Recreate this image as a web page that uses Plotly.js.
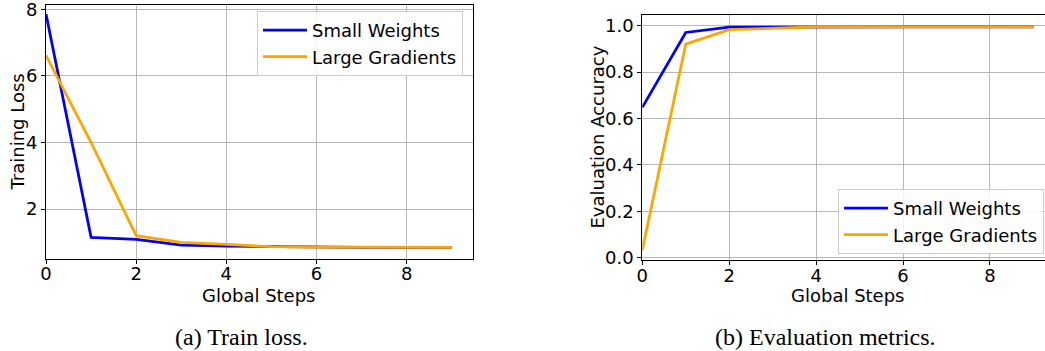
<!DOCTYPE html>
<html>
<head>
<meta charset="utf-8">
<script src="https://cdn.plot.ly/plotly-3.0.1.min.js"></script>
<style>
html,body{margin:0;padding:0;overflow:hidden;background:#fff;}
#chart{width:1045px;height:351px;}
</style>
</head>
<body>
<div id="chart"></div>
<script>
// Data
var steps = [0, 1, 2, 3, 4, 5, 6, 7, 8, 9];
var lossSmallWeights = [7.86, 1.15, 1.09, 0.92, 0.89, 0.87, 0.86, 0.85, 0.85, 0.85];
var lossLargeGradients = [6.62, 4.0, 1.2, 1.0, 0.94, 0.87, 0.86, 0.85, 0.85, 0.85];
var accSmallWeights = [0.648, 0.971, 0.994, 0.995, 0.995, 0.995, 0.995, 0.995, 0.995, 0.995];
var accLargeGradients = [0.033, 0.921, 0.983, 0.99, 0.995, 0.995, 0.995, 0.995, 0.995, 0.995];
var seriesNames = ["Small Weights", "Large Gradients"];
var xTicks = [0, 2, 4, 6, 8];
var lossTicks = [2, 4, 6, 8];
var accTicks = [0.0, 0.2, 0.4, 0.6, 0.8, 1.0];
var captions = ["(a) Train loss.", "(b) Evaluation metrics."];
var axisTitles = {x: "Global Steps", loss: "Training Loss", acc: "Evaluation Accuracy"};

var BLUE = "#0000ff", ORANGE = "#ffa500";
var FONT = "DejaVu Sans, sans-serif";
var FS = 18;
var W = 1045, H = 351;

var traces = [
  {x: steps, y: lossSmallWeights, name: seriesNames[0], type: "scatter", mode: "lines",
   line: {color: BLUE, width: 2.8}, xaxis: "x", yaxis: "y", legend: "legend", legendgroup: "a1"},
  {x: steps, y: lossLargeGradients, name: seriesNames[1], type: "scatter", mode: "lines",
   line: {color: ORANGE, width: 2.8}, xaxis: "x", yaxis: "y", legend: "legend", legendgroup: "a2"},
  {x: steps, y: accSmallWeights, name: seriesNames[0], type: "scatter", mode: "lines",
   line: {color: BLUE, width: 2.8}, xaxis: "x2", yaxis: "y2", legend: "legend2", legendgroup: "b1"},
  {x: steps, y: accLargeGradients, name: seriesNames[1], type: "scatter", mode: "lines",
   line: {color: ORANGE, width: 2.8}, xaxis: "x2", yaxis: "y2", legend: "legend2", legendgroup: "b2"}
];

function axisBase() {
  return {
    showgrid: true, gridcolor: "#b0b0b0", gridwidth: 0.9,
    showline: true, linecolor: "#000", linewidth: 1,
    ticks: "outside", ticklen: 4, tickwidth: 1, tickcolor: "#000",
    tickfont: {family: FONT, size: FS, color: "#000"},
    ticklabeloverflow: "allow",
    zeroline: false, automargin: false
  };
}

var xa = Object.assign(axisBase(), {domain: [0.04402, 0.45234], range: [0, 9.465], tickvals: xTicks,
  mirror: true, anchor: "y", ticklabelstandoff: -5});
var ya = Object.assign(axisBase(), {domain: [0.2630, 0.9866], range: [0.51, 8.14], tickvals: lossTicks,
  mirror: true, anchor: "x"});
var xa2 = Object.assign(axisBase(), {domain: [0.61464, 1], range: [0, 9.266], tickvals: xTicks,
  mirror: true, anchor: "y2", ticklabelstandoff: -5});
var ya2 = Object.assign(axisBase(), {domain: [0.2584, 0.9564], range: [-0.011, 1.045], tickvals: accTicks,
  tickformat: ".1f", mirror: false, anchor: "x2"});

var legendStyle = {
  bgcolor: "rgba(255,255,255,0.85)", bordercolor: "#cccccc", borderwidth: 1,
  font: {family: FONT, size: FS, color: "#000"}, tracegroupgap: 0, itemwidth: 44
};

function ann(text, px, py, angle, family, size) {
  return {text: text, xref: "paper", yref: "paper", x: px / W, y: 1 - py / H,
    xanchor: "center", yanchor: "middle", showarrow: false, textangle: angle || 0,
    font: {family: family, size: size, color: "#000"}};
}
var SERIF = "Liberation Serif, Times New Roman, serif";

var layout = {
  width: W, height: H,
  margin: {l: 0, r: 0, t: 0, b: 0},
  paper_bgcolor: "#fff", plot_bgcolor: "#fff",
  xaxis: xa, yaxis: ya, xaxis2: xa2, yaxis2: ya2,
  legend: Object.assign({x: 463/W, xanchor: "right", y: 1 - 11/H, yanchor: "top"}, legendStyle),
  legend2: Object.assign({x: 1044/W, xanchor: "right", y: 1 - 189/H, yanchor: "top"}, legendStyle),
  showlegend: true,
  annotations: [
    ann(axisTitles.x, 259.4, 295, 0, FONT, FS),
    ann(axisTitles.x, 847.5, 295, 0, FONT, FS),
    ann(axisTitles.loss, 17, 132.5, -90, FONT, FS),
    ann(axisTitles.acc, 597, 137.5, -90, FONT, FS),
    ann(captions[0], 241.5, 336.5, 0, SERIF, 24),
    ann(captions[1], 825, 336.5, 0, SERIF, 24)
  ]
};

Plotly.newPlot("chart", traces, layout, {displayModeBar: false, staticPlot: true});
</script>
</body>
</html>
